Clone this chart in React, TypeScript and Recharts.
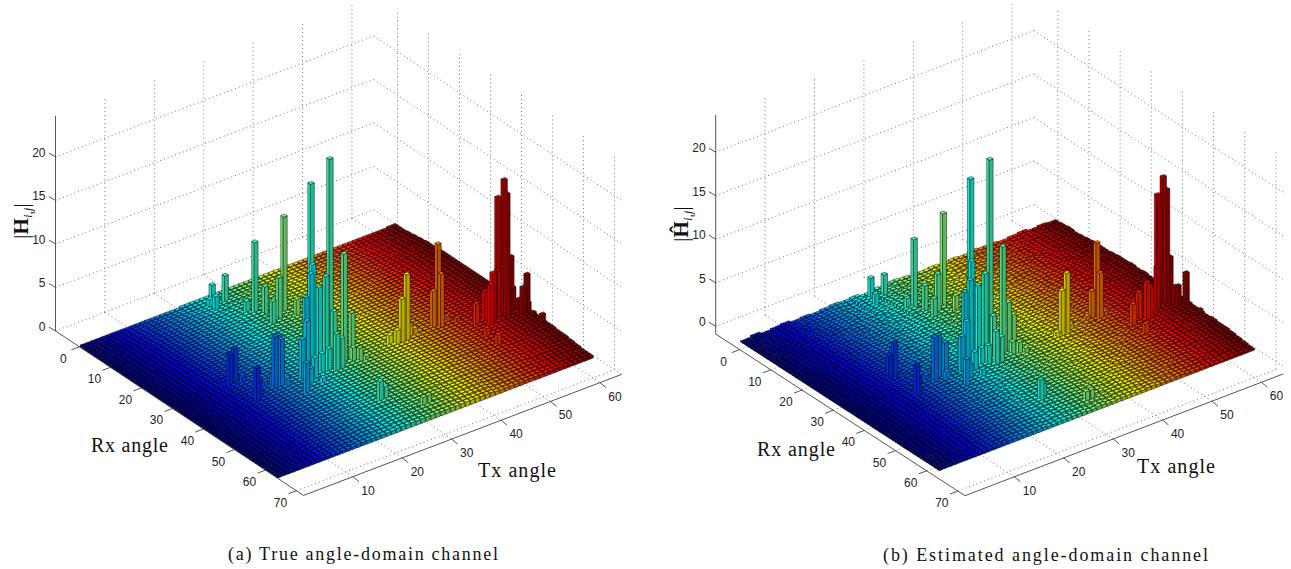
import React from 'react';
import { ScatterChart, Scatter, XAxis, YAxis, ReferenceLine } from 'recharts';

const rxTicks = [0, 10, 20, 30, 40, 50, 60, 70];
const txTicks = [10, 20, 30, 40, 50, 60];
const zTicks = [0, 5, 10, 15, 20];

// floor heights in tenths, one digit per 2x2 block of cells (rows: Rx, columns: Tx)
const floorA = [
  '22222222223333333333333333333334',
  '22222233333333333333333333333444',
  '22233333444444444444444444444455',
  '22333344455556666555555555555566',
  '23333444556677776666666666666677',
  '23334445566778887766666666667788',
  '33344455667788887777777777777888',
  '33344455667778887777777777778889',
  '33444556677788887777777788888899',
  '33444556677788888888888888888899',
  '33445566777888888888888888888999',
  '33445566778889988888888888899999',
  '34445667788899999988888899999999',
  '34455667788999999999999999999999',
  '34455667889999999999999999999999',
  '34455677889999999999999999999999',
  '34556778899999999999999999999999',
  '34556778899999999999999999999999',
  '44556778899999999999999999999999',
  '44556778899999999999999999999999',
  '44556778899999999999999999999998',
  '34556778889999999999999999999988',
  '34455677889999999999999999999888',
  '34455677888999999999999999998888',
  '33445667788899999999999999888887',
  '33445566778889999999998888888777',
  '33344556677888888888888888877776',
  '33344556677788888888888887777766',
  '22334455667777777777777777766655',
  '22333445566677777777776666655554',
  '22233344455566666666665555554443',
  '22223333444455555555554444444333',
];
const floorB = [
  '13123121232313243223232433234232',
  '21323232321434324232343243324323',
  '12323423342425343434234342433434',
  '23234234353536454343534354343443',
  '13324345344647565455344545454554',
  '22343434556457664654556454645465',
  '23244354465658576565465565656556',
  '32345445667567686566567456565666',
  '23354556568678675767565667676576',
  '24345456677687767667676766757687',
  '33454567678778687778677867767768',
  '24455667687788778678787778788778',
  '34456567778887887887787887878879',
  '33546678768898878978878988787988',
  '34456677889789898789888897899889',
  '25456778788989899898989798988998',
  '34567678898998989989899899899898',
  '35567787989899898998999889998989',
  '45567788899989989899898999899988',
  '34657878989899998989999899899898',
  '45567788899898989999889998988988',
  '35566787889989899898998989898878',
  '34465678798899898989898897888887',
  '34456777889789989898988988787887',
  '33455677688988898878888787878776',
  '24456567778788887887878787777877',
  '33345566767878787777787776777666',
  '23354456677677777676767676667656',
  '23334556566677676767666566656555',
  '13234445566566666656565565554544',
  '22323344455456555455544544453443',
  '12223334344344434344343343332332',
];

// [tx, rx, height]
const peaksA = [
  [28, 36.2, 24.2], [27, 31.7, 20.5], [32, 15, 11.7], [28, 12, 8.9], [27, 4, 3.4], [25, 3, 2.5], [24, 5.8, 2.1],
  [30, 37.6, 13.2], [24, 37, 13.1], [23, 38, 12.5], [25, 37.5, 10.4], [27, 36.5, 11], [22, 38, 10], [31, 38.5, 6.4],
  [28, 37.5, 7], [30, 16.6, 5.5], [29, 13.7, 4], [28, 17.8, 3.5], [33, 17.6, 2.6], [27, 11, 2.1], [24, 3.9, 1.3],
  [42, 38.7, 8.5], [41, 38.7, 5.9], [40, 38.7, 2.5], [44, 38, 1.7], [43, 38, 2.2], [45, 38, 1.2], [39, 38, 2],
  [49, 37.6, 10.2], [49, 38.6, 7], [48, 37.6, 5], [51, 37.3, 1.4], [52, 39, 1.4], [54, 42, 3.3],
  [60, 41.4, 16.1], [59, 41, 14.2], [61, 40.7, 14.1], [62, 40.4, 6.6], [57, 42.6, 6.3], [58, 42.6, 6.4], [56, 43.5, 5.4],
  [63, 44, 5.2], [62, 44.3, 4], [63, 49, 1.8], [53, 47, 1.9], [56, 41.6, 4.2], [53, 50.6, 2], [60, 42.3, 3.2],
  [62, 41, 3.2], [62, 42.9, 2.3], [63, 44.3, 2], [63, 46, 1.3],
  [12, 31, 4.6], [11, 31, 4.2], [11, 39.8, 4.7], [12, 39, 2.6], [17, 37, 6.5], [17, 38, 6.3], [16, 37.6, 6.7], [19, 43, 4.3],
  [16, 37, 2.3], [15, 36, 1.4], [18, 38.3, 1.7], [13, 32, 1.4], [10, 30.4, 1.2],
  [27, 54, 3.1], [28, 54, 2.3], [32, 60, 1.6], [33, 60, 1.6],
  [3, 32, 1.1], [3, 34, 1.2], [4, 36, 1.1], [2, 33, 1],
  [21, 38.4, 5.5], [22, 38.4, 7.4], [23, 39.4, 3.2], [25, 38.4, 3], [26, 38.8, 1.7], [27, 40, 5.2], [28, 40, 4.5],
  [31, 38.9, 2.5], [32, 39.5, 2.4], [33, 40, 1.4], [26, 39, 3.5], [23, 42, 1.5], [21, 41, 2.8],
];
const peaksB = [
  [28, 35.9, 23.3], [26, 32.9, 20.8], [32, 14.6, 11.3], [28, 11.6, 8.5], [27, 3.6, 2.8], [25, 2.5, 2.6], [24, 5.6, 1.7],
  [30, 36.9, 13.1], [24, 36.4, 12.6], [23, 37.5, 10.9], [25, 36.9, 9.7], [27, 35.9, 10.4], [22, 37.4, 9.7], [31, 37, 6.5],
  [28, 37, 5.6], [32, 37, 4.9], [30, 16, 5.1], [29, 13.5, 3.4], [29, 16.4, 2.6], [33, 17, 2.2], [27, 11, 1.8],
  [12, 30.6, 4.5], [11, 30.6, 3.2], [11, 39.4, 4.2], [12, 38.3, 2.3], [17, 36.8, 5.7], [16, 37.3, 5.8], [18, 37.4, 4.8],
  [19, 42.7, 3.9], [22, 36, 4], [26, 55.4, 3], [27, 54.6, 2.1], [32, 60.5, 1.5], [33, 60.5, 1.5],
  [42, 38.4, 7.8], [41, 38.4, 6], [40, 38.3, 1.4], [43, 38, 1.6], [44, 38, 1.3],
  [49, 36.9, 9.4], [49, 38, 6.2], [48, 36.9, 4.1], [47, 36.9, 1.4], [50, 38, 1.6],
  [60, 40.8, 15.5], [59, 40.6, 13.6], [61, 40.3, 13.7], [62, 39.8, 5.6], [58, 42, 5.8], [56, 43.2, 4.2], [55, 43.6, 5.1],
  [63, 43.4, 4.4], [52, 47.9, 2], [52, 43.8, 3.3], [54, 42.5, 3.9], [62, 42.4, 2.9], [61.5, 42.2, 2.9], [63, 47.8, 1.2],
  [16, 37, 2], [15, 36, 1.4], [18, 38, 1.6], [13, 32, 1.2], [3, 32, 1], [3, 34, 1.1], [4, 36, 1],
  [21, 38, 5], [22, 38, 6.5], [23, 39, 3], [25, 38, 2.8], [26, 38.3, 2], [27, 39.5, 4.6], [28, 39.5, 3.8],
  [31, 38.4, 2.3], [32, 39, 2.2], [33, 39.5, 1.4], [26, 38.5, 3], [23, 41.5, 1.6], [21, 40.5, 2.4],
];

const W = 646;
const H = 569;
const BAR = 0.8;

const clamp = (v: number) => Math.max(0, Math.min(1, v));
const jet = (v: number, k: number) => {
  const c = [
    clamp(Math.min(4 * v - 1.5, -4 * v + 4.5)),
    clamp(Math.min(4 * v - 0.5, -4 * v + 3.5)),
    clamp(Math.min(4 * v + 0.5, -4 * v + 2.5)),
  ].map((x) => Math.round(x * k * 255));
  return `rgb(${c[0]},${c[1]},${c[2]})`;
};

// Panel geometry, in pixels per data unit
const viewA = { ox: 79.4, oy: 346.8, tx: [4.94, -1.88], rx: [3.1, 2.056], zs: 8.7, zMin: 0, zTop: 24.7 };
const viewB = { ox: 94.7, oy: 341.8, tx: [4.94, -1.89], rx: [3.116, 2.02], zs: 8.7, zMin: -0.9, zTop: 24.3 };
const RX_MIN = -7.7;
const RX_MAX = 72.3;
const TX_MAX = 64.4;

type View = typeof viewA;

const project = (v: View, tx: number, rx: number, z: number) => ({
  x: v.ox + v.tx[0] * tx + v.rx[0] * rx,
  y: v.oy + v.tx[1] * tx + v.rx[1] * rx - z * v.zs,
});

const buildBars = (v: View, floor: string[], peaks: number[][]) => {
  const bars: any[] = [];
  const add = (tx: number, rx: number, z: number) => {
    const p = project(v, tx, rx, 0);
    bars.push({ px: p.x, py: p.y, tx, z });
  };
  for (let r = 0; r < 64; r++) {
    for (let t = 0; t < 64; t++) {
      const digit = floor[r >> 1]?.[t >> 1] ?? '3';
      add(t + 0.5, r + 0.5, Number(digit) / 10);
    }
  }
  peaks.forEach((b) => add(b[0], b[1], b[2]));
  return bars.sort((a, b) => a.py - b.py);
};

const makeBarShape = (v: View) => (props: any) => {
  const { cx, cy, payload } = props;
  const hw = BAR / 2;
  const h = payload.z * v.zs;
  const [tx, ty] = v.tx;
  const [rx, ry] = v.rx;
  const left = [cx - (tx + rx) * hw, cy - (ty + ry) * hw];
  const near = [cx + (rx - tx) * hw, cy + (ry - ty) * hw];
  const right = [cx + (tx + rx) * hw, cy + (ty + ry) * hw];
  const far = [cx + (tx - rx) * hw, cy + (ty - ry) * hw];
  const poly = (pts: number[][]) => 'M' + pts.map((q) => `${q[0].toFixed(1)} ${q[1].toFixed(1)}`).join('L') + 'Z';
  const up = (q: number[]) => [q[0], q[1] - h];
  const c = payload.tx / 64;
  const edge = { stroke: '#000', strokeWidth: 0.55, strokeOpacity: 0.85 };
  return (
    <g>
      <path d={poly([left, near, up(near), up(left)])} fill={jet(c, 0.92)} {...edge} />
      <path d={poly([near, right, up(right), up(near)])} fill={jet(c, 0.72)} {...edge} />
      <path d={poly([up(left), up(near), up(right), up(far)])} fill={jet(c, 1)} {...edge} />
    </g>
  );
};

const LabelShape = (props: any) => {
  const { cx, cy, payload } = props;
  if (payload.kind === 'ztitle') {
    return (
      <text
        transform={`rotate(-90 ${cx} ${cy})`}
        x={cx}
        y={cy}
        textAnchor="middle"
        fontFamily="Liberation Serif"
        fontSize={21}
        fill="#111"
      >
        |<tspan fontWeight="bold">{payload.text}</tspan>
        <tspan fontSize={13} fontStyle="italic" dy={4}>i,j</tspan>
        <tspan dy={-4}>|</tspan>
      </text>
    );
  }
  if (payload.kind === 'serif') {
    return (
      <text
        x={cx}
        y={cy}
        fontFamily="Liberation Serif"
        fontSize={payload.size}
        textLength={payload.len}
        lengthAdjust="spacing"
        fill="#111"
      >
        {payload.text}
      </text>
    );
  }
  return (
    <text x={cx} y={cy} textAnchor={payload.anchor} dominantBaseline="central" fontFamily="Liberation Sans" fontSize={12} fill="#222">
      {payload.text}
    </text>
  );
};

const Panel = ({ view, floor, peaks, texts }: { view: View; floor: string[]; peaks: number[][]; texts: any[] }) => {
  const v = view;
  const p = (t: number, r: number, z: number) => project(v, t, r, z);
  const dotted: any[] = [];
  const solid: any[] = [];
  zTicks.forEach((z) => {
    dotted.push([p(0, RX_MIN, z), p(TX_MAX, RX_MIN, z)]);
    dotted.push([p(TX_MAX, RX_MIN, z), p(TX_MAX, RX_MAX, z)]);
    const a = p(0, RX_MIN, z);
    solid.push([a, { x: a.x - 6.7, y: a.y - 4 }]);
  });
  txTicks.forEach((t) => {
    dotted.push([p(t, RX_MIN, v.zMin), p(t, RX_MIN, v.zTop)]);
    dotted.push([p(t, RX_MIN, v.zMin), p(t, RX_MAX, v.zMin)]);
    const a = p(t, RX_MAX, v.zMin);
    solid.push([a, { x: a.x + 6, y: a.y + 5 }]);
  });
  rxTicks.forEach((r) => {
    dotted.push([p(TX_MAX, r, v.zMin), p(TX_MAX, r, v.zTop)]);
    dotted.push([p(0, r, v.zMin), p(TX_MAX, r, v.zMin)]);
    const a = p(0, r, v.zMin);
    solid.push([a, { x: a.x - 8, y: a.y + 3 }]);
  });
  solid.push([p(0, RX_MIN, v.zMin), p(0, RX_MIN, v.zTop)]);
  solid.push([p(0, RX_MIN, v.zMin), p(0, RX_MAX, v.zMin)]);
  solid.push([p(0, RX_MAX, v.zMin), p(TX_MAX, RX_MAX, v.zMin)]);

  const tickLabels = [
    ...zTicks.map((z) => {
      const a = p(0, RX_MIN, z);
      return { px: a.x - 10, py: a.y - 4, text: String(z), anchor: 'end' };
    }),
    ...rxTicks.map((r) => {
      const a = p(0, r, v.zMin);
      return { px: a.x - 16, py: a.y + 12, text: String(r), anchor: 'middle' };
    }),
    ...txTicks.map((t) => {
      const a = p(t, RX_MAX, v.zMin);
      return { px: a.x + 15, py: a.y + 14, text: String(t), anchor: 'middle' };
    }),
  ];

  return (
    <ScatterChart width={W} height={H} margin={{ top: 0, right: 0, bottom: 0, left: 0 }}>
      <XAxis type="number" dataKey="px" domain={[0, W]} hide allowDataOverflow />
      <YAxis type="number" dataKey="py" domain={[0, H]} reversed hide allowDataOverflow />
      {dotted.map((s, i) => (
        <ReferenceLine key={'d' + i} segment={s} ifOverflow="visible" stroke="#666" strokeWidth={0.9} strokeDasharray="1 3" />
      ))}
      {solid.map((s, i) => (
        <ReferenceLine key={'s' + i} segment={s} ifOverflow="visible" stroke="#555" strokeWidth={1} />
      ))}
      <Scatter data={buildBars(v, floor, peaks)} shape={makeBarShape(v)} isAnimationActive={false} />
      <Scatter data={[...tickLabels, ...texts]} shape={LabelShape} isAnimationActive={false} />
    </ScatterChart>
  );
};

const textsA = [
  { px: 91, py: 452, text: 'Rx angle', kind: 'serif', size: 20, len: 77 },
  { px: 478, py: 477, text: 'Tx angle', kind: 'serif', size: 20, len: 78 },
  { px: 228, py: 560, text: '(a) True angle-domain channel', kind: 'serif', size: 18, len: 270 },
  { px: 28, py: 221, text: 'H', kind: 'ztitle' },
];
const textsB = [
  { px: 112, py: 456, text: 'Rx angle', kind: 'serif', size: 20, len: 78 },
  { px: 492, py: 473, text: 'Tx angle', kind: 'serif', size: 20, len: 78 },
  { px: 238, py: 561, text: '(b) Estimated angle-domain channel', kind: 'serif', size: 18, len: 325 },
  { px: 43, py: 224, text: 'Ĥ', kind: 'ztitle' },
];

export default function App() {
  return (
    <div style={{ position: 'absolute', left: 0, top: 0, width: 1291, height: H, background: '#fff', overflow: 'hidden' }}>
      <div style={{ position: 'absolute', left: 0, top: 0 }}>
        <Panel view={viewA} floor={floorA} peaks={peaksA} texts={textsA} />
      </div>
      <div style={{ position: 'absolute', left: 645, top: 0 }}>
        <Panel view={viewB} floor={floorB} peaks={peaksB} texts={textsB} />
      </div>
    </div>
  );
}
